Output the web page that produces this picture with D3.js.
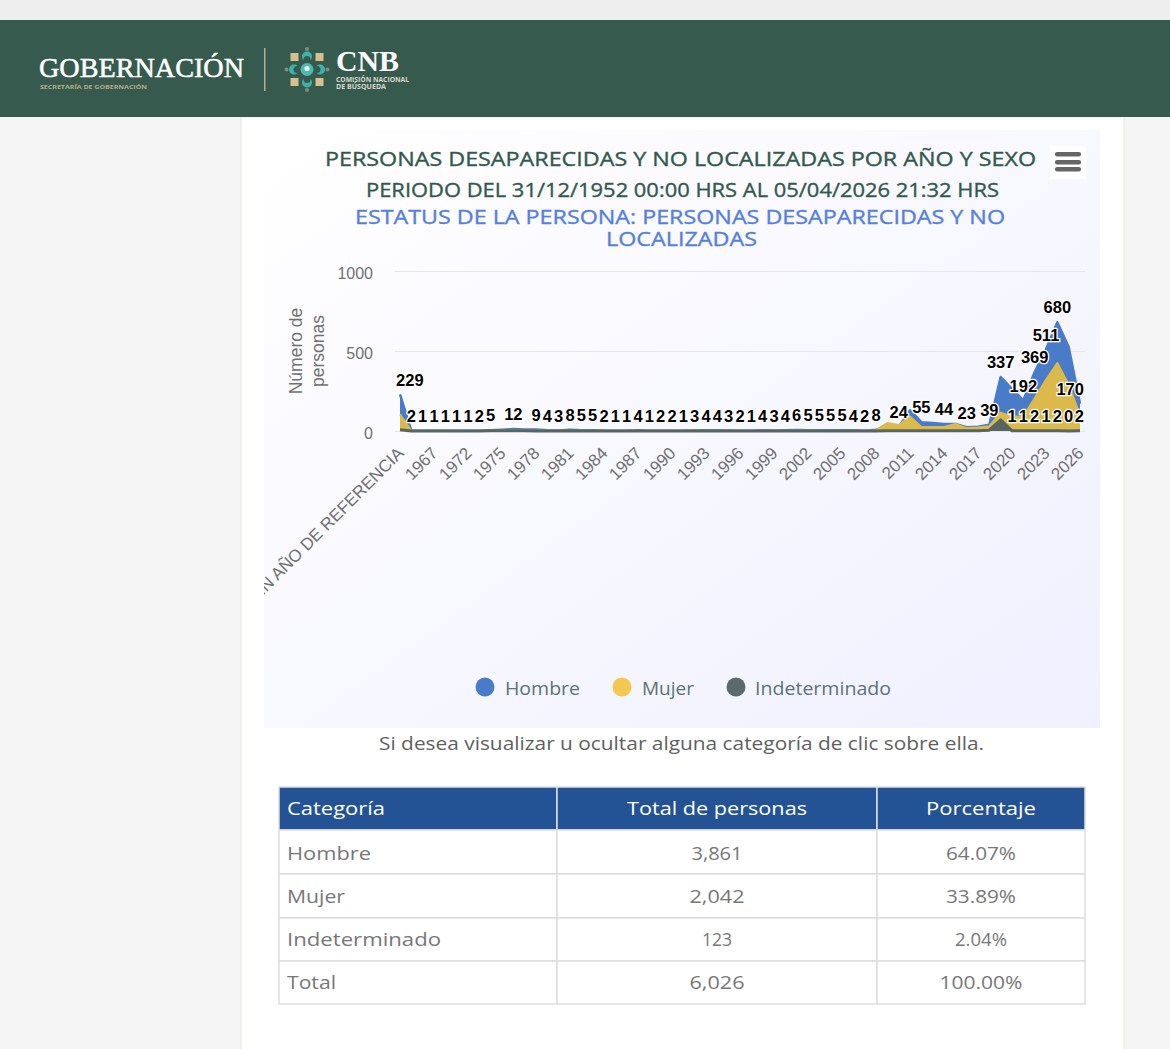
<!DOCTYPE html>
<html>
<head>
<meta charset="utf-8">
<script src="https://cdn.jsdelivr.net/npm/d3@7"></script>
<style>
html, body { margin: 0; padding: 0; background: #f5f5f5; overflow: hidden; }
svg { display: block; }
</style>
</head>
<body>
<div id="page"></div>
<script>
var categories = ["SIN AÑO DE REFERENCIA","1952","1964","1967","1969","1971","1972","1973","1974","1975","1976","1977","1978","1979","1980","1981","1982","1983","1984","1985","1986","1987","1988","1989","1990","1991","1992","1993","1994","1995","1996","1997","1998","1999","2000","2001","2002","2003","2004","2005","2006","2007","2008","2009","2010","2011","2012","2013","2014","2015","2016","2017","2018","2019","2020","2021","2022","2023","2024","2025","2026"];
var hombre = [229,2,1,1,1,1,1,2,5,8,12,10,9,4,3,8,5,5,2,1,1,4,1,2,2,1,3,4,4,3,2,1,4,3,4,6,5,5,5,5,4,2,8,30,24,130,55,50,44,44,23,26,39,337,265,192,369,511,680,525,170];
var mujer = [105,1,0,0,0,0,0,1,2,3,4,3,2,1,1,2,1,1,1,0,0,1,0,1,1,0,1,1,1,1,1,0,1,1,1,2,2,2,2,2,1,1,5,50,37,90,25,25,25,44,18,22,30,115,90,90,205,320,425,290,100];
var indeterminado = [8,0,0,0,0,0,0,0,1,2,2,1,0,0,0,1,0,0,0,0,0,0,0,0,0,0,0,0,0,0,0,0,0,0,0,0,0,0,0,0,0,0,0,1,1,2,1,1,1,1,1,2,5,70,1,1,2,1,2,0,2];
// which labels survive the overlap check in the original
var hombreLabels = [229,2,1,1,1,1,1,2,5,null,12,null,9,4,3,8,5,5,2,1,1,4,1,2,2,1,3,4,4,3,2,1,4,3,4,6,5,5,5,5,4,2,8,null,24,null,55,null,44,null,23,null,39,337,null,192,369,511,680,null,170];
var indetLabels = [null,null,null,null,null,null,null,null,null,null,null,null,null,null,null,null,null,null,null,null,null,null,null,null,null,null,null,null,null,null,null,null,null,null,null,null,null,null,null,null,null,null,null,null,null,null,null,null,null,null,null,null,null,null,1,1,2,1,2,0,2];
var yTicks = [0,500,1000];
var tableHead = ["Categoría","Total de personas","Porcentaje"];
var tableRows = [["Hombre","3,861","64.07%"],["Mujer","2,042","33.89%"],["Indeterminado","123","2.04%"],["Total","6,026","100.00%"]];
var seriesNames = ["Hombre","Mujer","Indeterminado"];
var seriesColors = ["#4a7bc9","#dcb94b","#56675f"];
var legendColors = ["#4a7bc9","#f3c84f","#5b6b6d"];

var montserrat = "'Open Sans', 'Noto Sans', sans-serif";
var arial = "'Liberation Sans', Arial, sans-serif";
var serif = "'Liberation Serif', serif";

var svg = d3.select("#page").append("svg").attr("width", 1170).attr("height", 1049);

// fitted text: same box as the original webfont
function putText(parent, str, x, y, size, color, len, anchor, weight, family) {
	return parent.append("text")
		.attr("x", x).attr("y", y)
		.attr("font-family", family || montserrat)
		.attr("font-size", size)
		.attr("font-weight", weight || 400)
		.attr("fill", color)
		.attr("text-anchor", anchor || "start")
		.attr("textLength", len)
		.attr("lengthAdjust", "spacingAndGlyphs")
		.text(str);
}

function drawPage() {
	svg.append("rect").attr("width", 1170).attr("height", 1049).attr("fill", "#f5f5f5");
	svg.append("rect").attr("width", 1170).attr("height", 20).attr("fill", "#eeeeee");
	svg.append("rect").attr("x", 241).attr("y", 117).attr("width", 883).attr("height", 940)
		.attr("fill", "#ffffff").attr("stroke", "#e6e6de");
	svg.append("rect").attr("y", 20).attr("width", 1170).attr("height", 97).attr("fill", "#365b4e");
}

function drawLogo() {
	var g = svg.append("g");
	putText(g, "GOBERNACIÓN", 39, 77, 27, "#ffffff", 205, "start", 400, serif)
		.attr("stroke", "#ffffff").attr("stroke-width", 0.5);
	putText(g, "SECRETARÍA DE GOBERNACIÓN", 40, 89, 5.5, "#b9ad86", 107, "start", 700);
	g.append("rect").attr("x", 264).attr("y", 48).attr("width", 1.5).attr("height", 43).attr("fill", "#b5ad8d");
	putText(g, "CNB", 336, 71, 29, "#ffffff", 63, "start", 700, serif);
	putText(g, "COMISIÓN NACIONAL", 336, 82, 6.5, "#d8d8cc", 73, "start", 700);
	putText(g, "DE BÚSQUEDA", 336, 89, 6.5, "#d8d8cc", 50, "start", 700);

	var icon = g.append("g").attr("transform", "translate(307,69.5)");
	var corners = [[-1,-1],[1,-1],[-1,1],[1,1]];
	var sides = [[0,-1],[1,0],[0,1],[-1,0]];
	icon.selectAll(".sq").data(corners).enter().append("rect")
		.attr("x", function(d){ return d[0]*12.5-4; })
		.attr("y", function(d){ return d[1]*12.5-4; })
		.attr("width", 8).attr("height", 8).attr("fill", "#d6c08e");
	icon.selectAll(".petal").data(sides).enter().append("circle")
		.attr("cx", function(d){ return d[0]*13; })
		.attr("cy", function(d){ return d[1]*13; })
		.attr("r", 5).attr("fill", "#3fb3aa");
	icon.selectAll(".notch").data(sides).enter().append("circle")
		.attr("cx", function(d){ return d[0]*10; })
		.attr("cy", function(d){ return d[1]*10; })
		.attr("r", 3.5).attr("fill", "#365b4e");
	icon.selectAll(".dot").data(sides).enter().append("circle")
		.attr("cx", function(d){ return d[0]*20.5; })
		.attr("cy", function(d){ return d[1]*20.5; })
		.attr("r", 2).attr("fill", "#7d8b85");
	icon.append("circle").attr("r", 6.5).attr("fill", "#4fb9b0");
	icon.append("circle").attr("cy", -1).attr("r", 2.6).attr("fill", "#e8f2ee");
}

function drawChart() {
	var defs = svg.append("defs");
	var grad = defs.append("linearGradient").attr("id", "chartbg")
		.attr("x1", 0).attr("y1", 0).attr("x2", 1).attr("y2", 1);
	grad.append("stop").attr("offset", "0%").attr("stop-color", "#ffffff");
	grad.append("stop").attr("offset", "100%").attr("stop-color", "#f0f0ff");

	// nested svg clips the long rotated label at the chart's left edge
	var chart = svg.append("svg").attr("x", 264).attr("y", 130)
		.attr("width", 836).attr("height", 598)
		.attr("viewBox", "264 130 836 598");
	chart.append("rect").attr("x", 264).attr("y", 130).attr("width", 836).attr("height", 598)
		.attr("fill", "url(#chartbg)");

	putText(chart, "PERSONAS DESAPARECIDAS Y NO LOCALIZADAS POR AÑO Y SEXO", 325, 166, 20, "#33594d", 711, "start", 400)
		.attr("stroke", "#33594d").attr("stroke-width", 0.35);
	putText(chart, "PERIODO DEL 31/12/1952 00:00 HRS AL 05/04/2026 21:32 HRS", 366, 197, 20, "#33594d", 633, "start", 400)
		.attr("stroke", "#33594d").attr("stroke-width", 0.35);
	putText(chart, "ESTATUS DE LA PERSONA: PERSONAS DESAPARECIDAS Y NO", 355, 224, 20, "#5580e0", 650, "start", 400)
		.attr("stroke", "#5580e0").attr("stroke-width", 0.35);
	putText(chart, "LOCALIZADAS", 606, 246, 20, "#5580e0", 151, "start", 400)
		.attr("stroke", "#5580e0").attr("stroke-width", 0.35);

	// menu button
	chart.append("rect").attr("x", 1050).attr("y", 146).attr("width", 36).attr("height", 33).attr("fill", "#ffffff");
	chart.selectAll(".bar").data([152,160,167]).enter().append("rect")
		.attr("x", 1055).attr("y", function(d){ return d; })
		.attr("width", 26).attr("height", 4.5).attr("rx", 2).attr("fill", "#666666");

	var x = d3.scalePoint().domain(categories).range([400, 1080]);
	var y = d3.scaleLinear().domain([0, 1000]).range([431, 271]);

	var yAxis = d3.axisLeft(y).tickValues(yTicks).tickSize(-690).tickPadding(22).tickFormat(d3.format("d"));
	var gy = chart.append("g").attr("transform", "translate(395,0)").call(yAxis);
	gy.select(".domain").remove();
	gy.selectAll("line").attr("stroke", "#e6e6e6");
	gy.selectAll("text").attr("font-family", arial).attr("font-size", 16).attr("fill", "#707070")
		.attr("dy", "0.46em");

	var shown = categories.filter(function(d, i){ return i % 3 == 0; });
	var xAxis = d3.axisBottom(x).tickValues(shown).tickSize(0);
	var gx = chart.append("g").attr("transform", "translate(0,431)").call(xAxis);
	gx.select(".domain").remove();
	gx.selectAll("text").attr("font-family", arial).attr("font-size", 17).attr("fill", "#707070")
		.attr("text-anchor", "end")
		.attr("transform", "translate(0,19) rotate(-45)")
		.attr("x", 0).attr("y", 0).attr("dy", "0.35em");

	var ytitle = chart.append("g").attr("transform", "translate(308,351) rotate(-90)")
		.attr("font-family", arial).attr("font-size", 17.5).attr("fill", "#707070").attr("text-anchor", "middle");
	ytitle.append("text").attr("y", -6).text("Número de");
	ytitle.append("text").attr("y", 16).text("personas");

	var series = [hombre, mujer, indeterminado];
	var widths = [2.5, 2, 3];
	var area = d3.area()
		.x(function(d, i){ return x(categories[i]); })
		.y0(y(0))
		.y1(function(d){ return y(d); });
	var line = d3.line()
		.x(function(d, i){ return x(categories[i]); })
		.y(function(d){ return y(d); });
	var layers = chart.selectAll(".series").data(series).enter().append("g").attr("class", "series");
	layers.append("path").attr("d", function(d){ return area(d); })
		.attr("fill", function(d, i){ return seriesColors[i]; });
	layers.append("path").attr("d", function(d){ return line(d); })
		.attr("fill", "none")
		.attr("stroke-linejoin", "round")
		.attr("stroke-width", function(d, i){ return widths[i]; })
		.attr("stroke", function(d, i){ return seriesColors[i]; });

	// labels stay inside the plot box, like the original
	function labelX(d, i) {
		var half = String(d).length * 4.6 + 1;
		return Math.max(395 + half, Math.min(1085 - half, x(categories[i])));
	}
	function drawLabels(values, source) {
		var g = chart.append("g");
		var items = [];
		values.forEach(function(d, i){ if (d !== null) { items.push({v: d, i: i, at: source[i]}); } });
		g.selectAll("text").data(items).enter().append("text")
			.attr("x", function(d){ return labelX(d.v, d.i); })
			.attr("y", function(d){ return y(d.at) - 14.5; })
			.attr("dy", "0.35em")
			.attr("text-anchor", "middle")
			.attr("font-family", arial).attr("font-size", 16.5).attr("font-weight", 700)
			.attr("fill", "#000000").attr("stroke", "#ffffff").attr("stroke-width", 2.5)
			.attr("paint-order", "stroke").attr("stroke-linejoin", "round")
			.text(function(d){ return d.v; });
	}
	drawLabels(hombreLabels, hombre);
	drawLabels(indetLabels, indeterminado);

	var legendX = [485, 622, 736];
	var legendW = [75, 52, 136];
	var legend = chart.selectAll(".leg").data(seriesNames).enter().append("g").attr("class", "leg");
	legend.append("circle")
		.attr("cx", function(d, i){ return legendX[i]; })
		.attr("cy", 687).attr("r", 9.5)
		.attr("fill", function(d, i){ return legendColors[i]; });
	legend.each(function(d, i){
		putText(d3.select(this), d, legendX[i] + 20 - (i == 2 ? 1 : 0), 695, 17.5, "#5a7374", legendW[i]);
	});
}

function drawTable() {
	putText(svg, "Si desea visualizar u ocultar alguna categoría de clic sobre ella.", 379, 750, 17.5, "#5f5f5f", 605);

	var cols = [279, 557, 877, 1085];
	var rowY = [787, 830, 874, 918, 961, 1004];
	var textY = [815, 860, 903, 946, 989];
	var rows = [tableHead].concat(tableRows);
	var headLen = [98, 180, 110];
	var bodyLen = [[84,51,70],[58,55,70],[154,30,52],[49,55,83]];
	rows.forEach(function(row, r){
		row.forEach(function(cell, c){
			var g = svg.append("g");
			g.append("rect")
				.attr("x", cols[c]).attr("y", rowY[r])
				.attr("width", cols[c+1]-cols[c]).attr("height", rowY[r+1]-rowY[r])
				.attr("fill", r == 0 ? "#235394" : "#ffffff")
				.attr("stroke", "#dedede").attr("stroke-width", 1.5);
			var tx = c == 0 ? cols[0] + 8 : (cols[c] + cols[c+1]) / 2;
			var len = r == 0 ? headLen[c] : bodyLen[r-1][c];
			putText(g, cell, tx, textY[r], 19, r == 0 ? "#ffffff" : "#777777", len,
				c == 0 ? "start" : "middle", 500);
		});
	});
}

drawPage();
drawLogo();
drawChart();
drawTable();
</script>
</body>
</html>
